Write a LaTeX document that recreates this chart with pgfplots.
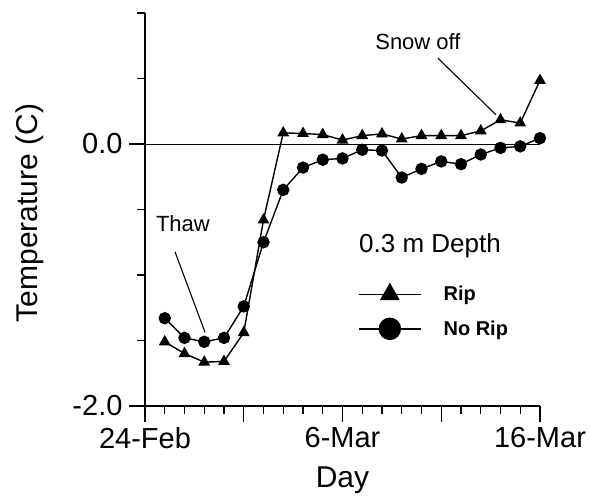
\documentclass[border=0pt]{standalone}
\usepackage{pgfplots}
\pgfplotsset{compat=1.18}
\usepackage{fontspec}
\setmainfont{Liberation Sans}

\pgfplotstableread{
day rip norip
1  -1.510 -1.330
2  -1.600 -1.480
3  -1.665 -1.510
4  -1.660 -1.480
5  -1.440 -1.240
6  -0.580 -0.750
7   0.085 -0.350
8   0.080 -0.180
9   0.072 -0.120
10  0.030 -0.110
11  0.064 -0.044
12  0.077 -0.050
13  0.038 -0.256
14  0.064 -0.190
15  0.064 -0.133
16  0.064 -0.154
17  0.100 -0.080
18  0.185 -0.030
19  0.160 -0.018
20  0.485  0.044
}\depth

\begin{document}
\begin{tikzpicture}
\path (0,0) rectangle (590pt,494pt);
\begin{axis}[
    at={(145pt,88pt)}, anchor=south west,
    width=395pt, height=393pt, scale only axis,
    xmin=0, xmax=20, ymin=-2, ymax=1,
    clip=false,
    axis x line*=bottom, axis y line*=left,
    axis line style={line width=1.4pt, -},
    xtick={0,5,...,20}, xticklabels={24-Feb,,6-Mar,,16-Mar},
    minor x tick num=4,
    ytick={-2,0}, yticklabels={-2.0,0.0},
    minor ytick={-1.5,-1,-0.5,0.5,1},
    tick align=outside,
    major tick length=16pt, minor tick length=8pt,
    tick style={black, line width=1.1pt},
    ticklabel style={font=\fontsize{29}{30}\selectfont},
    xticklabel style={yshift=-2pt},
    yticklabel style={xshift=-3pt},
    xlabel={Day}, ylabel={Temperature (C)},
    label style={font=\fontsize{30}{32}\selectfont},
    xlabel style={at={(axis description cs:0.5,-0.19)}, anchor=center},
    ylabel style={at={(axis description cs:-0.291,0.491)}, anchor=center},
    legend style={at={(axis cs:10.78,-1.281)}, anchor=west, draw=none, fill=none,
        inner sep=0pt, row sep=16pt,
        font=\bfseries\fontsize{20}{22}\selectfont,
        nodes={inner sep=0pt}},
    legend cell align=left,
    /tikz/every odd column/.append style={column sep=22pt},
    legend image code/.code={
        \draw[mark repeat=2, mark phase=2, #1]
            plot coordinates {(0pt,0pt) (31pt,0pt) (62pt,0pt)};
    },
]
    \addplot[black, line width=0.8pt, forget plot] coordinates {(0,0) (20,0)};
    \addplot[black, line width=1.4pt, mark=triangle*, mark size=5.5pt,
        mark options={solid}, forget plot] table[x=day, y=rip] {\depth};
    \addplot[black, line width=1.4pt, mark=*, mark size=5.5pt,
        mark options={solid}, forget plot] table[x=day, y=norip] {\depth};

    \addlegendimage{black, line width=1.5pt, mark=triangle*, mark size=10pt}
    \addlegendentry{Rip}
    \addlegendimage{black, line width=1.5pt, mark=*, mark size=10.5pt}
    \addlegendentry{No Rip}

    \node[font=\fontsize{26}{28}\selectfont] at (axis cs:14.43,-0.777) {0.3 m Depth};
    \node[font=\fontsize{22}{24}\selectfont] at (axis cs:13.82,0.785) {Snow off};
    \draw[line width=1.1pt] (axis cs:14.84,0.654) -- (axis cs:17.77,0.223);
    \node[font=\fontsize{22}{24}\selectfont] at (axis cs:1.92,-0.608) {Thaw};
    \draw[line width=1.1pt] (axis cs:1.52,-0.823) -- (axis cs:3.04,-1.438);
\end{axis}
\end{tikzpicture}
\end{document}
